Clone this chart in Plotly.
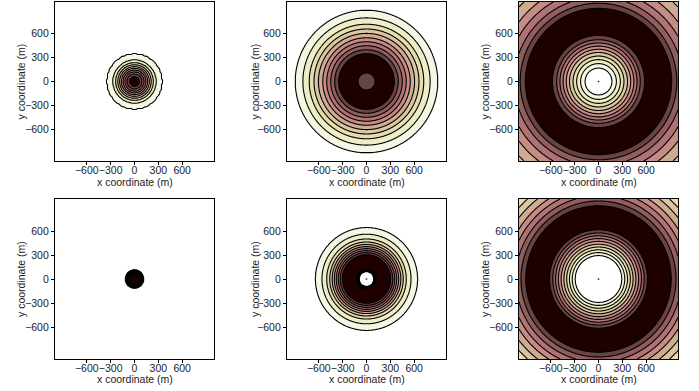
import numpy as np
import plotly.graph_objects as go

# ---------------- data ----------------
# Each panel is a radially symmetric field: radius (m) -> contour-level value.
# Contour lines sit at levels 1..10; band k (k <= v < k+1) takes colour k/10 of the "pink" map.
p1_r = [0, 63, 95, 120, 143, 165, 187, 210, 236, 270, 342, 1500]
p1_v = [0, 1, 2, 3, 4, 5, 6, 7, 8, 9, 10, 11]

p2_r = [0, 108, 140, 320, 350, 400, 450, 500, 550, 605, 660, 720, 800, 895, 1500]
p2_v = [1.5, 1.0, 0.4, 0.4, 1, 2, 3, 4, 5, 6, 7, 8, 9, 10, 11]

p3_r = [0, 8, 170, 225, 275, 320, 365, 405, 445, 485, 525, 580, 620, 880, 920, 985, 1060, 1150, 1250, 1370, 1500]
p3_v = [9.5, 10.5, 10, 9, 8, 7, 6, 5, 4, 3, 2, 1, 0.4, 0.4, 1, 2, 3, 4, 5, 6, 6.5]

p4_r = [0, 60, 70, 78, 85, 91, 96, 101, 105, 109, 114, 1500]
p4_v = [0, 1, 2, 3, 4, 5, 6, 7, 8, 9, 10, 11]

p5_r = [0, 8, 93, 97, 101, 104, 107, 110, 113, 116, 119, 122, 140, 280, 304, 330, 355, 380, 405, 432, 462, 500, 560, 641, 1500]
p5_v = [9.5, 10.5, 10, 9, 8, 7, 6, 5, 4, 3, 2, 1, 0.4, 0.4, 1, 2, 3, 4, 5, 6, 7, 8, 9, 10, 11]

p6_r = [0, 8, 295, 330, 365, 400, 435, 470, 505, 540, 575, 615, 660, 870, 915, 975, 1040, 1110, 1180, 1260, 1340, 1500]
p6_v = [9.5, 10.5, 10, 9, 8, 7, 6, 5, 4, 3, 2, 1, 0.4, 0.4, 1, 2, 3, 4, 5, 6, 7, 7.5]

panels = [(p1_r, p1_v), (p2_r, p2_v), (p3_r, p3_v),
          (p4_r, p4_v), (p5_r, p5_v), (p6_r, p6_v)]

tick_vals = [-600, -300, 0, 300, 600]
tick_text = ["\u2212600", "\u2212300", "0", "300", "600"]
x_title = "x coordinate (m)"
y_title = "y coordinate (m)"

# matplotlib "pink" colormap sampled at 0, 0.1, ..., 1
pink = ["#1e0000", "#694242", "#915d5d", "#b07272", "#c68b84", "#d0ab93",
        "#dac6a1", "#e4deae", "#ededc6", "#f6f6e4", "#ffffff"]
colorscale = [[i / 10, c] for i, c in enumerate(pink)]

# ---------------- figure ----------------
W, H = 699, 391
col_px = [(55, 214), (287, 446), (519, 678)]
row_px = [(2, 161), (199, 359)]
ytitle_x = [21, 255, 485]
xtitle_y = [181.5, 378.5]


def fx(px):
    return px / W


def fy(py):
    return 1 - py / H


fig = go.Figure()
font = "Liberation Sans, Arial, sans-serif"
tcol = "#222222"
annotations = []

for i, (rk, vk) in enumerate(panels):
    row, col = divmod(i, 3)
    n = 101 if i == 0 else 401
    g = np.linspace(-1000, 1000, n)
    X, Y = np.meshgrid(g, g)
    R = np.sqrt(X ** 2 + Y ** 2)
    Z = np.interp(R, rk, vk)
    ax = "" if i == 0 else str(i + 1)
    fig.add_trace(go.Contour(
        x=g, y=g, z=Z,
        xaxis="x" + ax, yaxis="y" + ax,
        autocontour=False,
        contours=dict(start=1, end=10, size=1, coloring="fill"),
        colorscale=colorscale, showscale=False,
        line=dict(color="black", width=1.1, smoothing=1.0),
        hoverinfo="skip",
    ))
    x0, x1 = col_px[col]
    y0, y1 = row_px[row]
    common = dict(range=[-1000, 1000], tickvals=tick_vals, ticktext=tick_text,
                  ticks="outside", ticklen=3, tickwidth=1, tickcolor="black",
                  showline=True, linecolor="black", linewidth=1.2, mirror=True,
                  showgrid=False, zeroline=False, automargin=False, tickangle=0,
                  tickfont=dict(family=font, size=10.5, color=tcol))
    fig.layout["xaxis" + ax] = dict(domain=[fx(x0), fx(x1)], anchor="y" + ax,
                                    ticklabelstandoff=-4, **common)
    fig.layout["yaxis" + ax] = dict(domain=[fy(y1), fy(y0)], anchor="x" + ax,
                                    **common)
    annotations.append(dict(text=x_title, xref="paper", yref="paper",
                            x=fx((x0 + x1) / 2), y=fy(xtitle_y[row]),
                            xanchor="center", yanchor="middle", showarrow=False,
                            font=dict(family=font, size=10.5, color=tcol)))
    annotations.append(dict(text=y_title, xref="paper", yref="paper",
                            x=fx(ytitle_x[col]), y=fy((y0 + y1) / 2),
                            xanchor="center", yanchor="middle", showarrow=False,
                            textangle=-90,
                            font=dict(family=font, size=10.5, color=tcol)))

fig.update_layout(width=W, height=H, margin=dict(l=0, r=0, t=0, b=0),
                  paper_bgcolor="white", plot_bgcolor="white", showlegend=False,
                  annotations=annotations)
fig.write_html("out.html", config={"displayModeBar": False},
               post_script="document.body.style.margin='0';"
                           "document.body.style.overflow='hidden';")
